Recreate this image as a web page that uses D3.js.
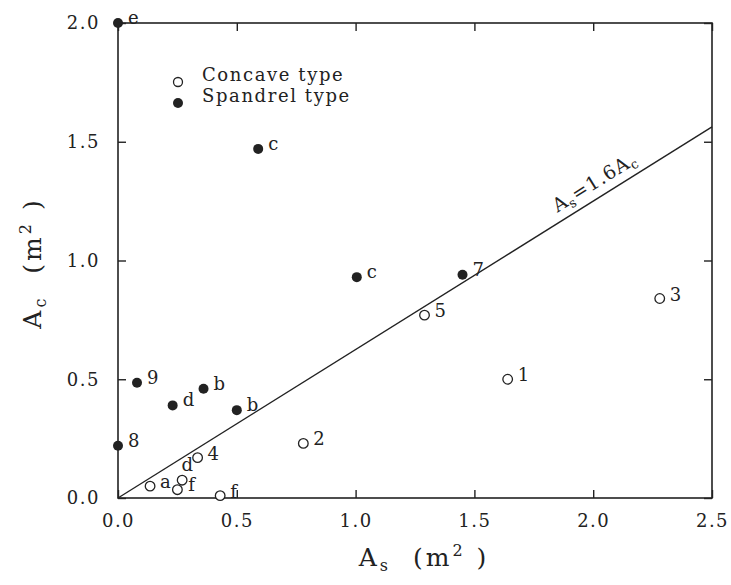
<!DOCTYPE html>
<html>
<head>
<meta charset="utf-8">
<script src="https://cdn.jsdelivr.net/npm/d3@7"></script>
<style>
  html, body { margin: 0; padding: 0; background: #fff; }
  svg { display: block; }
  text { font-family: "DejaVu Serif", "Liberation Serif", serif; fill: #222; }
</style>
</head>
<body>
<svg id="chart" width="731" height="585"></svg>
<script>
// ---- data ----
const concaveX      = [0.135, 0.25, 0.27, 0.335, 0.43, 0.78, 1.29, 1.64, 2.28];
const concaveY      = [0.05, 0.035, 0.075, 0.17, 0.01, 0.23, 0.77, 0.50, 0.84];
const concaveLabels = ["a", "d", "f", "4", "f", "2", "5", "1", "3"];

const spandrelX      = [0.0, 0.59, 1.005, 1.45, 0.08, 0.36, 0.23, 0.50, 0.0];
const spandrelY      = [2.0, 1.47, 0.93, 0.94, 0.485, 0.46, 0.39, 0.37, 0.22];
const spandrelLabels = ["e", "c", "c", "7", "9", "b", "d", "b", "8"];

const lineRatio = 1.6;             // As = 1.6 Ac
const xTicks = [0, 0.5, 1.0, 1.5, 2.0, 2.5];
const yTicks = [0, 0.5, 1.0, 1.5, 2.0];
const legendLabels = ["Concave type", "Spandrel type"];

// ---- layout ----
const svg = d3.select("#chart");
const mLeft = 118, mRight = 712, mTop = 23, mBottom = 498;
const x = d3.scaleLinear().domain([0, 2.5]).range([mLeft, mRight]);
const y = d3.scaleLinear().domain([0, 2.0]).range([mBottom, mTop]);
const ink = "#222";
const fmt = d3.format(".1f");

// frame
svg.append("rect")
  .attr("x", mLeft).attr("y", mTop)
  .attr("width", mRight - mLeft).attr("height", mBottom - mTop)
  .attr("fill", "none").attr("stroke", ink).attr("stroke-width", 1.6);

function styleAxis(g) {
  g.select(".domain").remove();
  g.selectAll(".tick line").attr("stroke", ink).attr("stroke-width", 1.4);
  g.selectAll(".tick text")
    .attr("fill", ink)
    .style("font-family", '"DejaVu Serif", serif')
    .style("font-size", "18px")
    .style("letter-spacing", "1.5px");
}

svg.append("g").attr("transform", `translate(0,${mBottom})`)
  .call(d3.axisBottom(x).tickValues(xTicks).tickFormat(fmt).tickSizeInner(-8).tickSizeOuter(0).tickPadding(16))
  .call(styleAxis);
svg.append("g").attr("transform", `translate(${mLeft},0)`)
  .call(d3.axisLeft(y).tickValues(yTicks).tickFormat(fmt).tickSizeInner(-8).tickSizeOuter(0).tickPadding(18))
  .call(styleAxis);
svg.append("g").attr("transform", `translate(0,${mTop})`)
  .call(d3.axisTop(x).tickValues(xTicks).tickFormat("").tickSizeInner(-8).tickSizeOuter(0))
  .call(styleAxis);
svg.append("g").attr("transform", `translate(${mRight},0)`)
  .call(d3.axisRight(y).tickValues(yTicks).tickFormat("").tickSizeInner(-8).tickSizeOuter(0))
  .call(styleAxis);

// reference line As = 1.6 Ac
const lineData = [0, 2.5].map(v => [v, v / lineRatio]);
svg.append("path")
  .attr("d", d3.line().x(d => x(d[0])).y(d => y(d[1]))(lineData))
  .attr("fill", "none").attr("stroke", ink).attr("stroke-width", 1.4);

const lblXd = 2.04;
const lx = x(lblXd), ly = y(lblXd / lineRatio);
const ang = -Math.atan2(y(0) - y(1 / lineRatio), x(1) - x(0)) * 180 / Math.PI;
const lt = svg.append("text")
  .attr("transform", `translate(${lx},${ly}) rotate(${ang})`)
  .attr("text-anchor", "middle").attr("dy", -9)
  .style("font-size", "19px").style("letter-spacing", "1px");
lt.append("tspan").text("A");
lt.append("tspan").attr("dy", 4).style("font-size", "13px").text("s");
lt.append("tspan").attr("dy", -4).text("=1.6A");
lt.append("tspan").attr("dy", 4).style("font-size", "13px").text("c");

// points
const concave = concaveX.map((v, i) => ({x: v, y: concaveY[i], label: concaveLabels[i], i}));
const spandrel = spandrelX.map((v, i) => ({x: v, y: spandrelY[i], label: spandrelLabels[i], i}));

const concaveOffsets = {1: [4, -19], 2: [6, 11]};
const defaultOffset = [10, 2];

svg.append("g").selectAll("circle").data(concave).join("circle")
  .attr("cx", d => x(d.x)).attr("cy", d => y(d.y)).attr("r", 4.8)
  .attr("fill", "#fff").attr("stroke", ink).attr("stroke-width", 1.3);

svg.append("g").selectAll("circle").data(spandrel).join("circle")
  .attr("cx", d => x(d.x)).attr("cy", d => y(d.y)).attr("r", 5)
  .attr("fill", ink);

svg.append("g").selectAll("text").data(concave).join("text")
  .attr("x", d => x(d.x) + (concaveOffsets[d.i] || defaultOffset)[0])
  .attr("y", d => y(d.y) + (concaveOffsets[d.i] || defaultOffset)[1])
  .style("font-size", "18px")
  .text(d => d.label);

svg.append("g").selectAll("text").data(spandrel).join("text")
  .attr("x", d => x(d.x) + defaultOffset[0])
  .attr("y", d => y(d.y) + defaultOffset[1] - 1)
  .style("font-size", "18px")
  .text(d => d.label);

// legend
const lg = svg.append("g");
legendLabels.forEach((t, i) => {
  const cy = 82 + i * 21;
  if (i === 0) {
    lg.append("circle").attr("cx", 178).attr("cy", cy).attr("r", 4.5)
      .attr("fill", "#fff").attr("stroke", ink).attr("stroke-width", 1.3);
  } else {
    lg.append("circle").attr("cx", 178).attr("cy", cy).attr("r", 5).attr("fill", ink);
  }
  lg.append("text").attr("x", 202).attr("y", cy - 1)
    .style("font-size", "18px").style("letter-spacing", "1.6px")
    .text(t);
});

// axis titles
const xt = svg.append("text")
  .attr("x", (mLeft + mRight) / 2 + 9).attr("y", 566)
  .attr("text-anchor", "middle")
  .style("font-size", "25px").style("letter-spacing", "3px")
  .attr("xml:space", "preserve");
xt.append("tspan").text("A");
xt.append("tspan").attr("dy", 5).style("font-size", "16px").text("s");
xt.append("tspan").attr("dy", -5).text("  (m");
xt.append("tspan").attr("dy", -10).style("font-size", "16px").text("2");
xt.append("tspan").attr("dy", 10).text(" )");

const yt = svg.append("text")
  .attr("transform", `translate(41,${263}) rotate(-90)`)
  .attr("text-anchor", "middle")
  .style("font-size", "25px").style("letter-spacing", "3px")
  .attr("xml:space", "preserve");
yt.append("tspan").text("A");
yt.append("tspan").attr("dy", 5).style("font-size", "16px").text("c");
yt.append("tspan").attr("dy", -5).text("  (m");
yt.append("tspan").attr("dy", -10).style("font-size", "16px").text("2");
yt.append("tspan").attr("dy", 10).text(" )");
</script>
</body>
</html>
